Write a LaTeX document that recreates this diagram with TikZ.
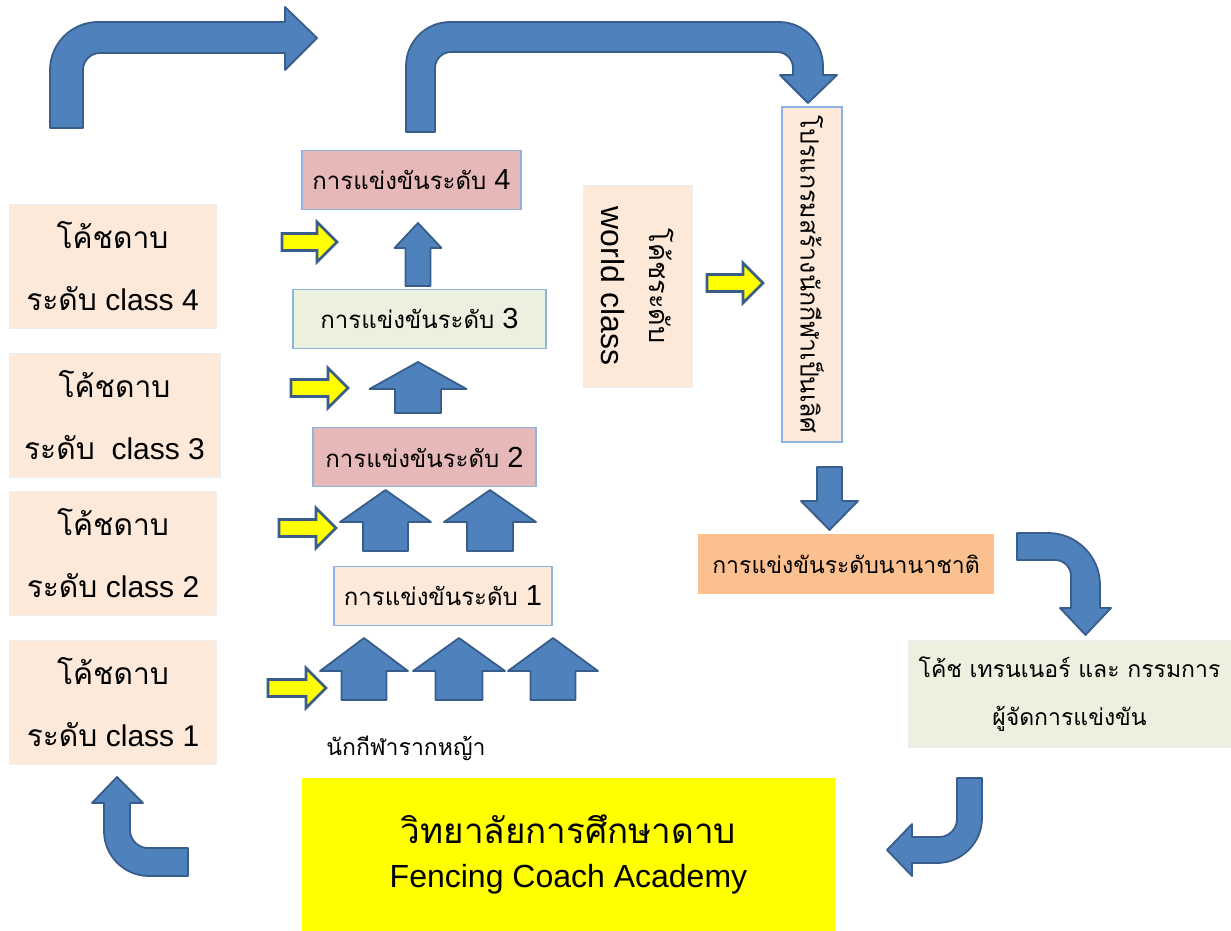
\documentclass[tikz,border=0pt]{standalone}
\usepackage{fontspec}
\setmainfont{Liberation Sans}
\newfontfamily\thaif[Script=Thai]{Loma}
\definecolor{peach}{HTML}{FDE9D9}
\definecolor{pinkb}{HTML}{E6B9B8}
\definecolor{greenb}{HTML}{EBF1DE}
\definecolor{orangeb}{HTML}{FAC090}
\definecolor{bordblue}{HTML}{8EB4E3}
\definecolor{arrblue}{HTML}{4F81BD}
\definecolor{arredge}{HTML}{385D8A}
\definecolor{yel}{HTML}{FFFF00}
\newcommand\UpArr[6]{%
  \draw[bluearrow] (#1,#2) -- (#1+#3,#4) -- (#1+#5,#4) -- (#1+#5,#6) -- (#1-#5,#6) -- (#1-#5,#4) -- (#1-#3,#4) -- cycle;}
\newcommand\YArr[3]{%
  \draw[yelarrow] (#1,#3-8.5) -- (#2-20,#3-8.5) -- (#2-20,#3-20) -- (#2,#3) -- (#2-20,#3+20) -- (#2-20,#3+8.5) -- (#1,#3+8.5) -- cycle;}
\newcommand\levtext[1]{{\thaif\fontsize{24}{30}\selectfont การแข่งขันระดับ}{\fontsize{29}{30}\selectfont\ #1}}
\begin{document}
\begin{tikzpicture}[x=1pt,y=-1pt,
  bluearrow/.style={fill=arrblue,draw=arredge,line width=1.8pt,line join=round},
  yelarrow/.style={fill=yel,draw=arredge,line width=2.6pt,line join=miter},
  leftbox/.style={fill=peach,draw=black!7,line width=0.8pt,minimum width=207pt,minimum height=124pt,inner sep=0pt,align=center,font=\fontsize{30}{62}\selectfont},
  levbox/.style={draw=bordblue,line width=1.3pt,minimum height=59pt,inner sep=0pt},
  thbox/.style={inner sep=0pt,align=center}]
\useasboundingbox (0,0) rectangle (1231,931);
% left coach boxes
\node[leftbox] (c4) at (112.5,266) {{\thaif โค้ชดาบ}\\{\thaif ระดับ} class 4};
\node[leftbox,minimum width=211pt] (c3) at (114.5,415) {{\thaif โค้ชดาบ}\\{\thaif ระดับ}\ \ class 3};
\node[leftbox] (c2) at (113,553) {{\thaif โค้ชดาบ}\\{\thaif ระดับ} class 2};
\node[leftbox] (c1) at (113,702.5) {{\thaif โค้ชดาบ}\\{\thaif ระดับ} class 1};
% level boxes
\node[levbox,fill=pinkb,minimum width=219pt] (l4) at (411.5,180) {\levtext{4}};
\node[levbox,fill=greenb,minimum width=253pt] (l3) at (419.5,319) {\levtext{3}};
\node[levbox,fill=pinkb,minimum width=223pt] (l2) at (424.5,457) {\levtext{2}};
\node[levbox,fill=peach,minimum width=218pt] (l1) at (443,596) {\levtext{1}};
\node[font=\thaif\fontsize{23}{26}\selectfont] (grass) at (406,748) {นักกีฬารากหญ้า};
% world class and program
\node[fill=peach,draw=black!7,line width=0.8pt,rotate=-90,minimum width=202pt,minimum height=109pt,inner sep=0pt,align=center,font=\fontsize{32}{48}\selectfont] (wc) at (637.5,286) {{\thaif\fontsize{27}{48}\selectfont โค้ชระดับ}\\world class};
\node[fill=peach,draw=bordblue,line width=1.3pt,rotate=-90,minimum width=335pt,minimum height=60pt,inner sep=0pt,font=\thaif\fontsize{25}{30}\selectfont] (prog) at (812,274.5) {โปรแกรมสร้างนักกีฬาเป็นเลิศ};
\node[fill=orangeb,minimum width=296pt,minimum height=60pt,inner sep=0pt,font=\thaif\fontsize{23}{30}\selectfont] (intl) at (846,564) {การแข่งขันระดับนานาชาติ};
\node[fill=greenb,draw=black!7,line width=0.8pt,minimum width=323pt,minimum height=107pt,inner sep=0pt,align=center,font=\thaif\fontsize{23}{48}\selectfont] (staff) at (1069.5,694) {โค้ช เทรนเนอร์ และ กรรมการ\\ผู้จัดการแข่งขัน};
\node[fill=yel,minimum width=533pt,minimum height=153pt,inner sep=0pt,align=center] (acad) at (568.5,854.5) {{\thaif\fontsize{35}{40}\selectfont วิทยาลัยการศึกษาดาบ}\\[20pt]{\fontsize{32}{36}\selectfont Fencing Coach Academy}};
% yellow arrows
\YArr{282}{337}{242}
\YArr{291}{348}{388}
\YArr{279}{336}{528}
\YArr{268}{326}{688}
\YArr{707}{763}{283}
% up arrows
\UpArr{418}{223}{23.5}{248}{12.5}{286}
\UpArr{418}{362}{48.5}{389}{23}{413}
\UpArr{385.5}{490}{45.5}{522}{22.5}{551}
\UpArr{490}{490}{46}{522}{23}{551}
\UpArr{364}{638}{44}{671}{22.5}{700}
\UpArr{459}{638}{46}{671}{23.5}{700}
\UpArr{553}{638}{45}{671}{22.5}{700}
% down arrow under program box
\draw[bluearrow] (817,467) -- (842,467) -- (842,501) -- (858,501) -- (829.5,530) -- (801,501) -- (817,501) -- cycle;
% top-left bent arrow
\draw[bluearrow] (50,128) -- (50,70) .. controls (50,43.6) and (71.6,22) .. (98,22) -- (285,22) -- (285,7) -- (317,38) -- (285,70) -- (285,53) -- (100,53) .. controls (90.65,53) and (83,60.65) .. (83,70) -- (83,128) -- cycle;
% big top arrow
\draw[bluearrow] (406,132) -- (406,66) .. controls (406,41.8) and (425.8,22) .. (450,22) -- (779,22) .. controls (803.2,22) and (823,41.8) .. (823,66) -- (823,75) -- (837,75) -- (808,103) -- (780,75) -- (793,75) -- (793,68) .. controls (793,59.2) and (785.8,52) .. (777,52) -- (451,52) .. controls (442.2,52) and (435,59.2) .. (435,68) -- (435,132) -- cycle;
% right bent arrow
\draw[bluearrow] (1017,533) -- (1048,533) .. controls (1076.6,533) and (1100,556.4) .. (1100,585) -- (1100,608) -- (1111,608) -- (1085.5,635) -- (1060,608) -- (1071,608) -- (1071,576) .. controls (1071,567.2) and (1063.8,560) .. (1055,560) -- (1017,560) -- cycle;
% bottom-left arrow
\draw[bluearrow] (117,777) -- (143,803) -- (130,803) -- (130,830) .. controls (130,839.9) and (138.1,848) .. (148,848) -- (188,848) -- (188,876) -- (149,876) .. controls (124.2,876) and (104,855.8) .. (104,831) -- (104,803) -- (92,803) -- cycle;
% bottom-right arrow
\draw[bluearrow] (957,778) -- (982,778) -- (982,818) .. controls (982,842.8) and (961.8,863) .. (937,863) -- (912,863) -- (912,876) -- (887,850) -- (912,824) -- (912,837) -- (939,837) .. controls (948.9,837) and (957,828.9) .. (957,819) -- cycle;
\end{tikzpicture}
\end{document}
